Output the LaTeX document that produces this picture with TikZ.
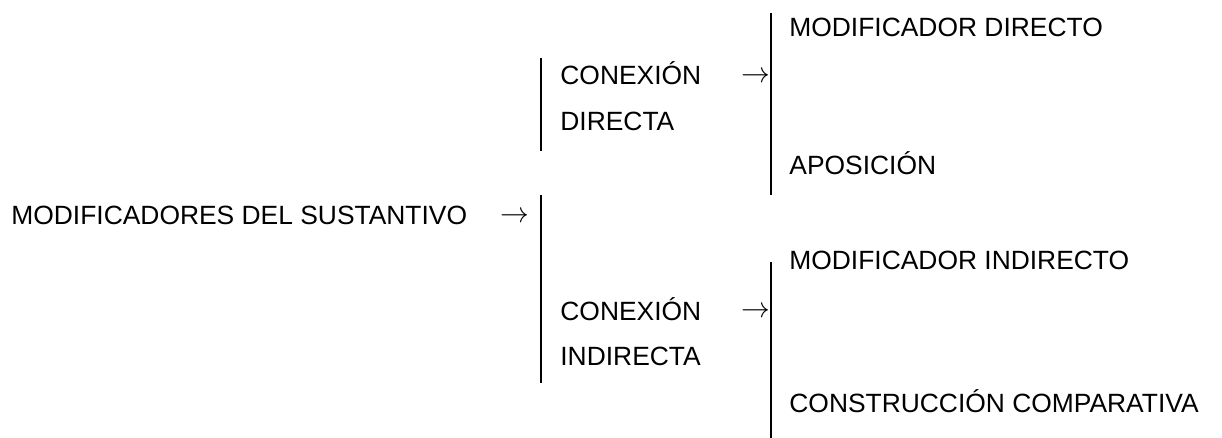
\documentclass[tikz,border=0pt]{standalone}
\usepackage{fontspec}
\setmainfont{Liberation Sans}

\begin{document}
\begin{tikzpicture}[x=0.5pt,y=-0.5pt,
    entry/.style ={anchor=base west, inner sep=0pt, align=left,
      font=\fontsize{13.2}{23}\selectfont},
    arrowsym/.style ={inner sep=0pt, font=\fontsize{15}{18}\selectfont},
    bracket/.style ={line width=0.7pt}]
   \useasboundingbox (0,0) rectangle (1222,438);
   % main term
   \node[entry] (S) at (11,225) {MODIFICADORES DEL SUSTANTIVO};
   \node[arrowsym] (SA) at (515,217) {$\rightarrow$};
   \draw[bracket] (541,195) -- (541,383);
   % first branch
   \draw[bracket] (541,58) -- (541,151);
   \node[entry] (CD) at (560,131) {CONEXIÓN\\DIRECTA};
   \node[arrowsym] (CDA) at (755.5,77) {$\rightarrow$};
   \draw[bracket] (771,13) -- (771,195);
   \node[entry] (MD) at (789,37) {MODIFICADOR DIRECTO};
   \node[entry] (AP) at (789,175) {APOSICIÓN};
   % second branch
   \node[entry] (CI) at (560,366) {CONEXIÓN\\INDIRECTA};
   \node[arrowsym] (CIA) at (755.5,312) {$\rightarrow$};
   \draw[bracket] (771,262) -- (771,438);
   \node[entry] (MI) at (789,270) {MODIFICADOR INDIRECTO};
   \node[entry] (CC) at (789,413) {CONSTRUCCIÓN COMPARATIVA};
\end{tikzpicture}
\end{document}
